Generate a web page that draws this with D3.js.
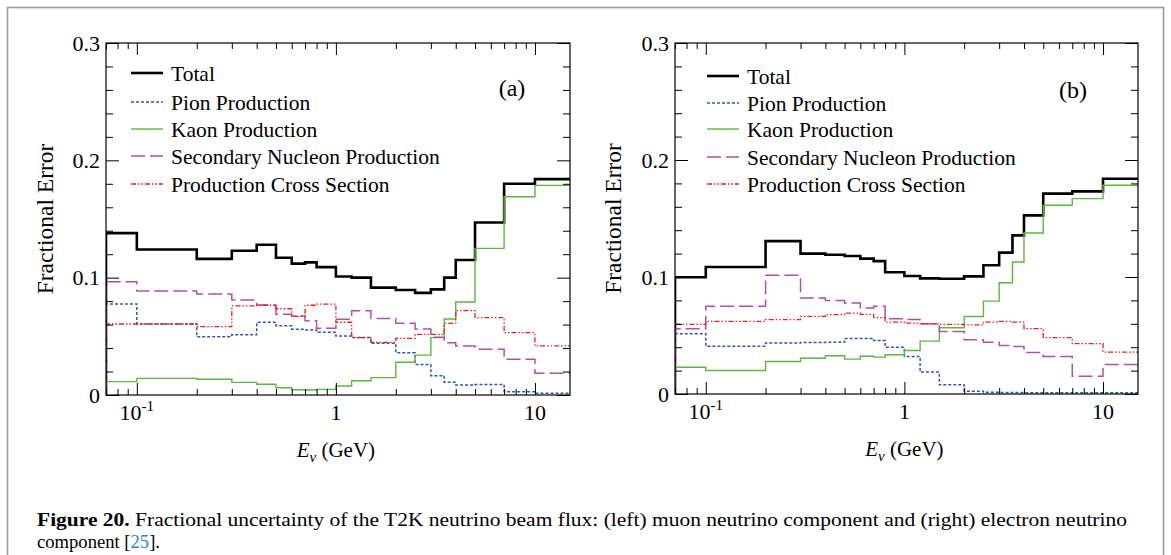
<!DOCTYPE html>
<html><head><meta charset="utf-8">
<script src="https://cdn.jsdelivr.net/npm/d3@7"></script>
<style>
body{margin:0;background:#fff;}
svg{display:block;}
text{font-family:"Liberation Serif","Times New Roman",serif;fill:#000;}
</style>
</head><body>
<svg id="c" width="1171" height="555"></svg>
<script>
// ---------- data ----------
const binEdges = [0.07, 0.1, 0.2, 0.3, 0.4, 0.5, 0.6, 0.7, 0.8, 1.0, 1.2, 1.5, 2.0, 2.5, 3.0, 3.5, 4.0, 5.0, 7.0, 10.0, 15.0];
const seriesNames = ["Total", "Pion Production", "Kaon Production", "Secondary Nucleon Production", "Production Cross Section"];

// (a) muon neutrino
const totalA = [0.138, 0.124, 0.116, 0.123, 0.128, 0.117, 0.112, 0.113, 0.109, 0.101, 0.100, 0.0915, 0.0895, 0.087, 0.090, 0.100, 0.115, 0.147, 0.180, 0.184];
const pionA  = [0.0776, 0.0605, 0.0497, 0.0514, 0.062, 0.059, 0.056, 0.0555, 0.0535, 0.0503, 0.0489, 0.044, 0.036, 0.026, 0.0165, 0.0108, 0.0085, 0.009, 0.0028, 0.0014];
const kaonA  = [0.0114, 0.0142, 0.0134, 0.0108, 0.0091, 0.0062, 0.0045, 0.0043, 0.0048, 0.0077, 0.0122, 0.0148, 0.0279, 0.034, 0.0489, 0.0648, 0.0793, 0.125, 0.169, 0.1787];
const secA   = [0.0966, 0.0886, 0.086, 0.081, 0.0767, 0.0688, 0.0673, 0.0633, 0.0568, 0.0645, 0.0719, 0.0653, 0.0611, 0.0562, 0.0492, 0.0446, 0.0418, 0.039, 0.0304, 0.0185];
const xsecA  = [0.0605, 0.0605, 0.0582, 0.076, 0.0765, 0.0735, 0.067, 0.0765, 0.0775, 0.062, 0.0489, 0.0449, 0.0483, 0.0517, 0.0517, 0.061, 0.0719, 0.0659, 0.0531, 0.0418];

// (b) electron neutrino
const totalB = [0.0998, 0.1085, 0.1307, 0.120, 0.119, 0.118, 0.1157, 0.1136, 0.104, 0.1008, 0.0988, 0.0985, 0.1005, 0.110, 0.1208, 0.1356, 0.1527, 0.1713, 0.1732, 0.184];
const pionB  = [0.0515, 0.0409, 0.0435, 0.0441, 0.0443, 0.0475, 0.0475, 0.0458, 0.040, 0.0321, 0.0187, 0.0079, 0.0024, 0.0015, 0.0013, 0.0012, 0.0011, 0.0011, 0.0010, 0.0010];
const kaonB  = [0.0229, 0.0201, 0.0278, 0.0306, 0.0327, 0.0298, 0.0323, 0.0315, 0.0336, 0.0372, 0.0452, 0.0566, 0.0663, 0.0794, 0.0951, 0.1128, 0.1376, 0.1613, 0.167, 0.1784];
const secB   = [0.0558, 0.0751, 0.1014, 0.082, 0.080, 0.0777, 0.0734, 0.0751, 0.0643, 0.0637, 0.060, 0.0535, 0.0464, 0.0443, 0.0415, 0.0406, 0.0355, 0.0321, 0.0152, 0.0252];
const xsecB  = [0.0595, 0.062, 0.0635, 0.0663, 0.0678, 0.0691, 0.068, 0.0652, 0.0614, 0.0606, 0.060, 0.0595, 0.059, 0.0614, 0.062, 0.0614, 0.0558, 0.0481, 0.043, 0.0358];

const yMajorTicks = [0, 0.1, 0.2, 0.3];
const yTickLabels = ["0", "0.1", "0.2", "0.3"];
const yMinorTicks = [0.02, 0.04, 0.06, 0.08, 0.12, 0.14, 0.16, 0.18, 0.22, 0.24, 0.26, 0.28];
const xMajorTicks = [0.1, 1, 10];
const xMinorTicks = [0.07, 0.08, 0.09, 0.2, 0.3, 0.4, 0.5, 0.6, 0.7, 0.8, 0.9, 2, 3, 4, 5, 6, 7, 8, 9];
const xDomain = [0.07, 15];
const yDomain = [0, 0.3];

// ---------- layout / style ----------
const styles = [
  {color: "#000000", width: 2.6, dash: null},
  {color: "#3355b0", width: 1.5, dash: "3,2"},
  {color: "#5cb83c", width: 1.4, dash: null},
  {color: "#b34fa8", width: 1.5, dash: "14,5"},
  {color: "#ee1c1c", width: 1.3, dash: "5,2,1.5,2,1.5,2"}
];

const panels = [
  {left: 106, right: 570, top: 43, bottom: 395, label: "(a)", labelPos: [512, 88],
   legendX: 131, legendRows: [73, 102, 129, 156, 184], yTitleX: 45,
   data: [totalA, pionA, kaonA, secA, xsecA]},
  {left: 675, right: 1138, top: 43, bottom: 394, label: "(b)", labelPos: [1073, 90],
   legendX: 707, legendRows: [76, 103, 129, 157, 184], yTitleX: 613,
   data: [totalB, pionB, kaonB, secB, xsecB]}
];

const svg = d3.select("#c");

// outer frame
svg.append("rect").attr("x", 7.5).attr("y", 7.5).attr("width", 1156).attr("height", 620)
  .attr("fill", "none").attr("stroke", "#9a9a9a").attr("stroke-width", 1.6);

panels.forEach((p, pi) => {
  const x = d3.scaleLog().domain(xDomain).range([p.left, p.right]);
  const y = d3.scaleLinear().domain(yDomain).range([p.bottom, p.top]);
  const g = svg.append("g");
  const clipId = "clip" + pi;
  svg.append("defs").append("clipPath").attr("id", clipId)
    .append("rect").attr("x", p.left).attr("y", p.top).attr("width", p.right - p.left).attr("height", p.bottom - p.top);

  const line = d3.line().x(d => x(d[0])).y(d => y(d[1])).curve(d3.curveStepAfter);
  const n = binEdges.length - 1;
  const plotG = g.append("g").attr("clip-path", `url(#${clipId})`);
  p.data.forEach((vals, si) => {
    const pts = [[binEdges[0], 0]];
    for (let i = 0; i < n; i++) pts.push([binEdges[i], vals[i]]);
    pts.push([binEdges[n], vals[n - 1]]);
    const st = styles[si];
    plotG.append("path").attr("d", line(pts)).attr("fill", "none")
      .attr("stroke", st.color).attr("stroke-width", st.width)
      .attr("stroke-dasharray", st.dash).attr("stroke-linejoin", "miter");
  });

  // axes (ticks inward)
  const axG = g.append("g").attr("class", "axes");
  const noFmt = () => "";
  const addAxis = (axis, tx, ty) => {
    const a = axG.append("g").attr("transform", `translate(${tx},${ty})`).call(axis);
    a.select(".domain").remove();
    a.selectAll("line").attr("stroke", "#000").attr("stroke-width", 1);
    return a;
  };
  addAxis(d3.axisBottom(x).tickValues(xMajorTicks).tickSize(-12).tickFormat(noFmt), 0, p.bottom);
  addAxis(d3.axisBottom(x).tickValues(xMinorTicks).tickSize(-6).tickFormat(noFmt), 0, p.bottom);
  addAxis(d3.axisTop(x).tickValues(xMajorTicks).tickSize(-12).tickFormat(noFmt), 0, p.top);
  addAxis(d3.axisTop(x).tickValues(xMinorTicks).tickSize(-6).tickFormat(noFmt), 0, p.top);
  addAxis(d3.axisLeft(y).tickValues(yMajorTicks).tickSize(-13).tickFormat(noFmt), p.left, 0);
  addAxis(d3.axisLeft(y).tickValues(yMinorTicks).tickSize(-7).tickFormat(noFmt), p.left, 0);
  addAxis(d3.axisRight(y).tickValues(yMajorTicks).tickSize(-13).tickFormat(noFmt), p.right, 0);
  addAxis(d3.axisRight(y).tickValues(yMinorTicks).tickSize(-7).tickFormat(noFmt), p.right, 0);

  // frame
  g.append("rect").attr("x", p.left).attr("y", p.top).attr("width", p.right - p.left).attr("height", p.bottom - p.top)
    .attr("fill", "none").attr("stroke", "#000").attr("stroke-width", 1.2);

  // y tick labels
  yMajorTicks.forEach((v, i) => {
    g.append("text").attr("x", p.left - 6).attr("y", y(v)).attr("dy", "0.35em")
      .attr("text-anchor", "end").attr("font-size", 22).text(yTickLabels[i]);
  });
  // x tick labels
  xMajorTicks.forEach(v => {
    const t = g.append("text").attr("x", x(v)).attr("y", p.bottom + 25).attr("text-anchor", "middle").attr("font-size", 22);
    const e = Math.round(Math.log10(v));
    if (e < 0) {
      t.append("tspan").text("10");
      t.append("tspan").attr("dy", -9).attr("font-size", 15).text(String(e));
    } else {
      t.text(String(v));
    }
  });

  // axis titles
  const xt = g.append("text").attr("x", (x(1)) ).attr("y", p.bottom + 62).attr("text-anchor", "middle").attr("font-size", 21);
  xt.append("tspan").attr("font-style", "italic").text("E");
  xt.append("tspan").attr("font-style", "italic").attr("font-size", 15).attr("dy", 5).text("ν");
  xt.append("tspan").attr("dy", -5).text(" (GeV)");

  g.append("text").attr("transform", `translate(${p.yTitleX},${(p.top + p.bottom) / 2}) rotate(-90)`)
    .attr("text-anchor", "middle").attr("dy", "0.35em").attr("font-size", 23.5).text("Fractional Error");

  // panel label
  g.append("text").attr("x", p.labelPos[0]).attr("y", p.labelPos[1]).attr("dy", "0.35em")
    .attr("text-anchor", "middle").attr("font-size", 24).text(p.label);

  // legend
  seriesNames.forEach((name, si) => {
    const st = styles[si];
    const yy = p.legendRows[si];
    g.append("line").attr("x1", p.legendX).attr("x2", p.legendX + 32).attr("y1", yy).attr("y2", yy)
      .attr("stroke", st.color).attr("stroke-width", st.width).attr("stroke-dasharray", st.dash);
    g.append("text").attr("x", p.legendX + 40).attr("y", yy).attr("dy", "0.35em")
      .attr("font-size", 21.5).text(name);
  });
});

// caption
const cap1 = svg.append("text").attr("x", 37).attr("y", 526).attr("font-size", 19)
  .attr("textLength", 1090).attr("lengthAdjust", "spacingAndGlyphs");
cap1.append("tspan").attr("font-weight", "bold").text("Figure 20.");
cap1.append("tspan").text(" Fractional uncertainty of the T2K neutrino beam flux: (left) muon neutrino component and (right) electron neutrino");
const cap2 = svg.append("text").attr("x", 37).attr("y", 548).attr("font-size", 19)
  .attr("textLength", 123).attr("lengthAdjust", "spacingAndGlyphs");
cap2.append("tspan").text("component [");
cap2.append("tspan").attr("fill", "#2a86c4").text("25");
cap2.append("tspan").text("].");
</script>
</body></html>
